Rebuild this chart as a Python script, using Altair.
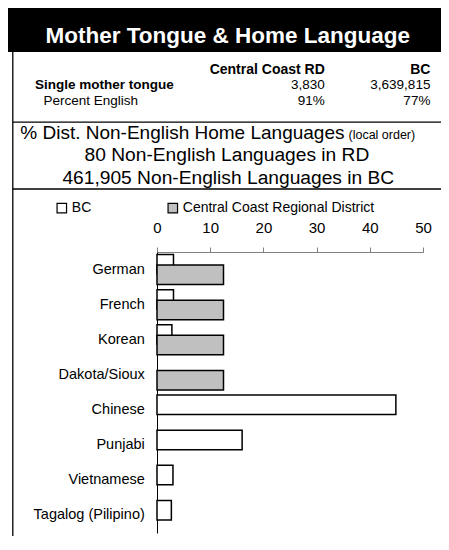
import altair as alt
import pandas as pd

# ---------------- data ----------------
languages = ["German", "French", "Korean", "Dakota/Sioux", "Chinese",
             "Punjabi", "Vietnamese", "Tagalog (Pilipino)"]
bc_values = [3.1, 3.1, 2.8, 0.0, 44.9, 16.0, 3.0, 2.7]
ccrd_values = [12.5, 12.5, 12.5, 12.5, 0.0, 0.0, 0.0, 0.0]
series_names = ["BC", "Central Coast Regional District"]
series_colors = ["#ffffff", "#c0c0c0"]
x_ticks = [0, 10, 20, 30, 40, 50]

title_text = "Mother Tongue & Home Language"
table_cols = ["Central Coast RD", "BC"]
table_rows = ["Single mother tongue", "Percent English"]
table_rd = ["3,830", "91%"]
table_bc = ["3,639,815", "77%"]
subtitle_main = "% Dist. Non-English Home Languages"
subtitle_note = "(local order)"
summary_lines = ["80 Non-English Languages in RD",
                 "461,905 Non-English Languages in BC"]

FONT = "Liberation Sans"

rows = []
for lang, b, c in zip(languages, bc_values, ccrd_values):
    rows.append({"language": lang, "series": series_names[0], "value": b})
    rows.append({"language": lang, "series": series_names[1], "value": c})
df = pd.DataFrame(rows)
one = pd.DataFrame({"k": [0]})

# ---------------- layout helpers ----------------
def text_layer(s, x, y, size, align="left", bold=False, color="black"):
    return alt.Chart(one).mark_text(
        text=s, align=align, baseline="alphabetic", fontSize=size,
        fontWeight="bold" if bold else "normal", font=FONT, color=color
    ).encode(x=alt.value(x), y=alt.value(y))

def hrule(x1, x2, y, color="black", w=1.3):
    return alt.Chart(one).mark_rule(color=color, strokeWidth=w).encode(
        x=alt.value(x1), x2=alt.value(x2), y=alt.value(y))

def vrule(x, y1, y2, color="black", w=1.3):
    return alt.Chart(one).mark_rule(color=color, strokeWidth=w).encode(
        x=alt.value(x), y=alt.value(y1), y2=alt.value(y2))

header = alt.Chart(one).mark_rect(color="black").encode(
    x=alt.value(-149), x2=alt.value(284), y=alt.value(-244), y2=alt.value(-200))

TS = 13.5  # table font size
R0, R1, R2 = -177.9, -162.7, -147.5
layers = [
    header,
    vrule(-144.2, -200, 284),
    hrule(-144.2, 284, -129.8),
    hrule(-144.2, 284, -63),
    text_layer(title_text, 70.8, -209.4, 22.5, align="center", bold=True, color="white"),
    text_layer(table_cols[0], 167.8, R0, 14, align="right", bold=True),
    text_layer(table_cols[1], 273.4, R0, 14, align="right", bold=True),
    text_layer(table_rows[0], -122.1, R1, TS, align="left", bold=True),
    text_layer(table_rd[0], 167.8, R1, TS, align="right"),
    text_layer(table_bc[0], 273.4, R1, TS, align="right"),
    text_layer(table_rows[1], -113.5, R2, TS, align="left"),
    text_layer(table_rd[1], 167.8, R2, TS, align="right"),
    text_layer(table_bc[1], 273.4, R2, TS, align="right"),
    text_layer(subtitle_main, 187.5, -113.4, 19, align="right"),
    text_layer(subtitle_note, 191.5, -113.4, 12.5, align="left"),
    text_layer(summary_lines[0], 69.9, -91, 19.2, align="center"),
    text_layer(summary_lines[1], 71.3, -68.3, 19.2, align="center"),
]

# ---------------- bars ----------------
x_enc = alt.X(
    "value:Q",
    scale=alt.Scale(domain=[0, 50], nice=False, zero=True),
    axis=alt.Axis(orient="top", values=x_ticks, tickSize=5, labelPadding=15,
                  labelBaseline="alphabetic", labelFlush=False, labelFontSize=15,
                  labelFont=FONT, labelColor="black", domainColor="#808080",
                  tickColor="#808080", grid=False, title=None, labelAngle=0),
)
y_enc = alt.Y(
    "language:N", sort=languages,
    scale=alt.Scale(domain=languages, paddingInner=0, paddingOuter=0),
    axis=alt.Axis(title=None, ticks=False, tickSize=0, labelPadding=12.7,
                  labelFontSize=14.5, labelFont=FONT, labelColor="black",
                  domainColor="black", labelLimit=300),
)
fill_enc = alt.Fill(
    "series:N",
    scale=alt.Scale(domain=series_names, range=series_colors),
    legend=alt.Legend(orient="none", legendX=-102.2, legendY=-51.3,
                      direction="horizontal", title=None, symbolType="square",
                      symbolSize=90, symbolStrokeColor="black",
                      symbolStrokeWidth=1.2, symbolOpacity=1,
                      labelFontSize=14, labelFont=FONT, labelColor="black",
                      labelOffset=3, columnPadding=73, padding=0,
                      labelLimit=300),
)

bc_bars = alt.Chart(df).transform_filter(
    f"datum.series == '{series_names[0]}' && datum.value > 0"
).mark_bar(size=19.5, yOffset=-5.2, stroke="black", strokeWidth=1.5).encode(
    x=x_enc, y=y_enc, fill=fill_enc)

rd_bars = alt.Chart(df).transform_filter(
    f"datum.series == '{series_names[1]}' && datum.value > 0"
).mark_bar(size=19.5, yOffset=5.2, stroke="black", strokeWidth=1.5).encode(
    x=x_enc, y=y_enc, fill=fill_enc)

chart = alt.layer(*layers, bc_bars, rd_bars).properties(
    width=266, height=281,
    autosize=alt.AutoSizeParams(type="none"),
    padding={"left": 149, "top": 244, "right": 18, "bottom": 3},
).configure_view(stroke=None)

chart.save("out.html", embed_options={"renderer": "svg", "actions": False})
